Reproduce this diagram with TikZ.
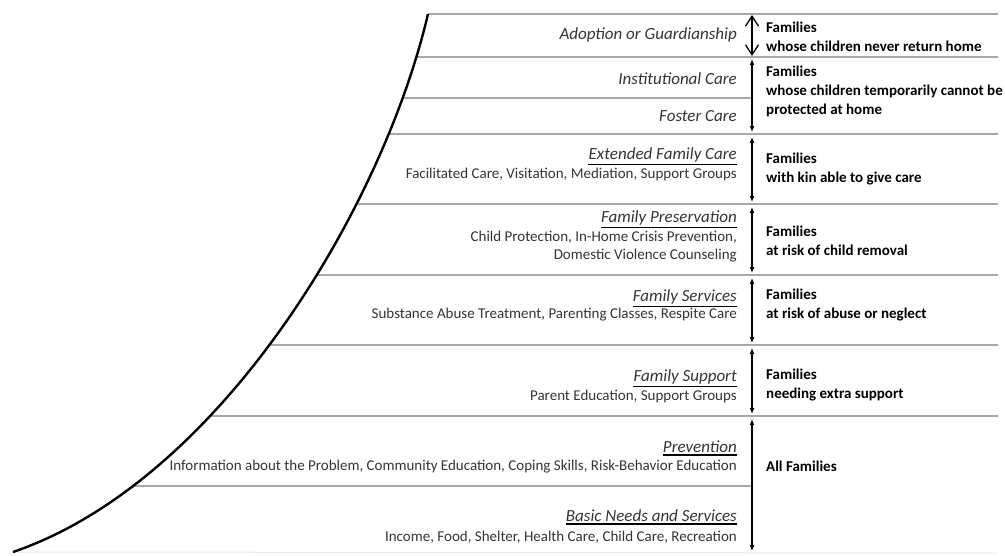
\documentclass[tikz,border=0pt]{standalone}
\usepackage{fontspec}
\setmainfont{Carlito}
\usetikzlibrary{arrows.meta,intersections}
\definecolor{txt}{HTML}{353535}
\definecolor{rulec}{HTML}{A8A8A8}
\definecolor{faint}{HTML}{EBEBEB}
\begin{document}
\begin{tikzpicture}[x=1pt,y=-1pt,
 rulel/.style={draw=rulec,line width=1.8pt},
 title/.style={anchor=east,inner sep=0pt,text=txt,font=\fontsize{17}{19}\selectfont\itshape},
 sub/.style={anchor=east,inner sep=0pt,text=txt,align=right,font=\fontsize{15}{18}\selectfont},
 fam/.style={anchor=west,inner sep=0pt,align=left,font=\fontsize{15}{19}\selectfont\bfseries},
 uline/.style={line width=1.6pt},
 darr/.style={line width=1.3pt,{Latex[length=6pt,width=5pt]}-{Latex[length=6pt,width=5pt]}},
 barb/.style={line width=1.3pt,{Straight Barb[length=10pt,width=13pt]}-{Straight Barb[length=10pt,width=13pt]}}
]
\useasboundingbox[fill=white] (0,0) rectangle (1005,555);
% curve
\coordinate (c0) at (428,14);
\coordinate (p1) at (382,210);
\coordinate (p2) at (218,482);
\coordinate (c9) at (13,552);
\path[name path global=curve] (c0) .. controls (p1) and (p2) .. (c9);
% right ends
\coordinate (r0) at (998,14);
\coordinate (r1) at (998,57);
\coordinate (r2) at (752,98);
\coordinate (r3) at (998,134);
\coordinate (r4) at (998,204);
\coordinate (r5) at (998,275);
\coordinate (r6) at (998,345);
\coordinate (r7) at (998,416);
\coordinate (r8) at (752,486);
\coordinate (r9) at (998,553);
\draw[draw=faint,line width=1pt] (c9) -- (r9);
\draw[rulel] (c0) -- (r0);
\foreach \i in {1,...,8} {
  \path[name path=hl] (0,0 |- r\i) -- (r\i);
  \path[name intersections={of=curve and hl, by={k\i}}];
  \draw[rulel] (k\i) -- (r\i);
}
\draw[line width=2.4pt] (c0) .. controls (p1) and (p2) .. (c9);
% arrows
\coordinate (a1t) at (752,15); \coordinate (a1b) at (752,56);
\coordinate (a2t) at (752,59); \coordinate (a2b) at (752,132);
\coordinate (a3t) at (752,137); \coordinate (a3b) at (752,202);
\coordinate (a4t) at (752,207); \coordinate (a4b) at (752,273);
\coordinate (a5t) at (752,278); \coordinate (a5b) at (752,343);
\coordinate (a6t) at (752,348); \coordinate (a6b) at (752,414);
\coordinate (a7t) at (752,419); \coordinate (a7b) at (752,551);
\draw[barb] (a1t) -- (a1b);
\draw[darr] (a2t) -- (a2b);
\draw[darr] (a3t) -- (a3b);
\draw[darr] (a4t) -- (a4b);
\draw[darr] (a5t) -- (a5b);
\draw[darr] (a6t) -- (a6b);
\draw[darr] (a7t) -- (a7b);
% left texts
\node[title] (t1) at (737,35) {Adoption or Guardianship};
\node[title] (t2) at (737,79) {Institutional Care};
\node[title] (t3) at (737,116) {Foster Care};
\node[title] (t4) at (737,155) {Extended Family Care};
\node[sub] (s4) at (737,174) {Facilitated Care, Visitation, Mediation, Support Groups};
\node[title] (t5) at (737,218) {Family Preservation};
\node[sub] (s5) at (737,247) {Child Protection, In-Home Crisis Prevention,\\Domestic Violence Counseling};
\node[title] (t6) at (737,297) {Family Services};
\node[sub] (s6) at (737,315) {Substance Abuse Treatment, Parenting Classes, Respite Care};
\node[title] (t7) at (737,377) {Family Support};
\node[sub] (s7) at (737,396) {Parent Education, Support Groups};
\node[title] (t8) at (737,447) {Prevention};
\node[sub] (s8) at (737,467) {Information about the Problem, Community Education, Coping Skills, Risk-Behavior Education};
\node[title] (t9) at (737,516) {Basic Needs and Services};
\node[sub] (s9) at (737,537) {Income, Food, Shelter, Health Care, Child Care, Recreation};
\foreach \t in {t4,t5,t6,t7,t8,t9} {\draw[uline] ([yshift=-2pt]\t.south west) -- ([yshift=-2pt]\t.south east);}
% right texts
\node[fam] (f1) at (766,37) {Families\\whose children never return home};
\node[fam] (f2) at (766,91) {Families\\whose children temporarily cannot be\\protected at home};
\node[fam] (f3) at (766,169) {Families\\with kin able to give care};
\node[fam] (f4) at (766,241) {Families\\at risk of child removal};
\node[fam] (f5) at (766,305) {Families\\at risk of abuse or neglect};
\node[fam] (f6) at (766,385) {Families\\needing extra support};
\node[fam] (f7) at (766,466) {All Families};
\end{tikzpicture}
\end{document}
